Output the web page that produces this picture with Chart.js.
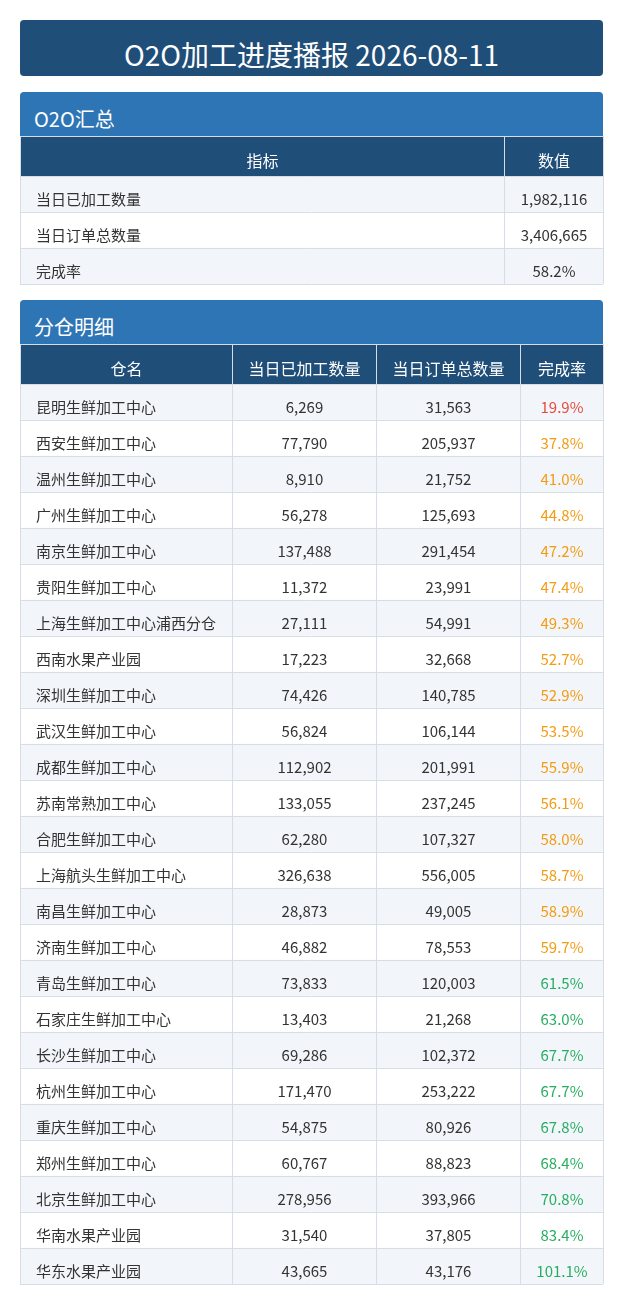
<!DOCTYPE html>
<html>
<head>
<meta charset="utf-8">
<script src="https://cdn.jsdelivr.net/npm/chart.js@4.4.1/dist/chart.umd.min.js"></script>
<style>
html,body{margin:0;padding:0;background:#fff;}
body{width:623px;height:1304px;position:relative;overflow:hidden;font-family:"Noto Sans CJK SC","Noto Sans",sans-serif;}
.banner{position:absolute;left:20px;width:583px;color:#fff;}
.title{top:20px;height:56px;background:#1f4e79;border-radius:4px;}
.title span{position:absolute;left:0;right:0;text-align:center;font-size:28px;line-height:40.54px;top:13.5px;white-space:nowrap;}
.sec{height:44px;background:#2e75b6;border-radius:4px 4px 0 0;}
.sec span{position:absolute;left:14px;font-size:20px;line-height:28.96px;top:12.8px;white-space:nowrap;}
canvas{position:absolute;left:0;}
</style>
</head>
<body>
<div class="banner title"><span>O2O加工进度播报 2026-08-11</span></div>
<div class="banner sec" style="top:92px"><span>O2O汇总</span></div>
<div class="banner sec" style="top:300px"><span>分仓明细</span></div>
<canvas id="sum" width="623" height="158" style="top:136px"></canvas>
<canvas id="det" width="623" height="960" style="top:344px"></canvas>
<script>
// ---------- DATA ----------
const summaryHeaders = ['指标', '数值'];
const summaryMetrics = ['当日已加工数量', '当日订单总数量', '完成率'];
const summaryValues = ['1,982,116', '3,406,665', '58.2%'];

const detailHeaders = ['仓名', '当日已加工数量', '当日订单总数量', '完成率'];
const warehouses = ['昆明生鲜加工中心','西安生鲜加工中心','温州生鲜加工中心','广州生鲜加工中心','南京生鲜加工中心','贵阳生鲜加工中心','上海生鲜加工中心浦西分仓','西南水果产业园','深圳生鲜加工中心','武汉生鲜加工中心','成都生鲜加工中心','苏南常熟加工中心','合肥生鲜加工中心','上海航头生鲜加工中心','南昌生鲜加工中心','济南生鲜加工中心','青岛生鲜加工中心','石家庄生鲜加工中心','长沙生鲜加工中心','杭州生鲜加工中心','重庆生鲜加工中心','郑州生鲜加工中心','北京生鲜加工中心','华南水果产业园','华东水果产业园'];
const processedQty = [6269,77790,8910,56278,137488,11372,27111,17223,74426,56824,112902,133055,62280,326638,28873,46882,73833,13403,69286,171470,54875,60767,278956,31540,43665];
const orderQty = [31563,205937,21752,125693,291454,23991,54991,32668,140785,106144,201991,237245,107327,556005,49005,78553,120003,21268,102372,253222,80926,88823,393966,37805,43176];
const completionRate = [19.9,37.8,41.0,44.8,47.2,47.4,49.3,52.7,52.9,53.5,55.9,56.1,58.0,58.7,58.9,59.7,61.5,63.0,67.7,67.7,67.8,68.4,70.8,83.4,101.1];

// ---------- STYLE ----------
const HEADER_BG = '#1f4e79';
const LINE = '#d6dde7';
const ROW_ALT = '#f2f6fa';
const TEXT = '#333333';
const FONT = '15px "Noto Sans CJK SC", "Noto Sans", sans-serif';
const HEAD_FONT = '16px "Noto Sans CJK SC", "Noto Sans", sans-serif';
const HEADER_H = 40, ROW_H = 36;
function rateColor(v){ return v < 30 ? '#e74c3c' : (v < 60 ? '#f39c12' : '#27ae60'); }
const fmt = n => n.toLocaleString('en-US');

const tablePlugin = {
  id: 'tableCells',
  afterDraw(chart, args, opts) {
    const {ctx, chartArea: a, scales: {x, y}} = chart;
    const edges = opts.edges;
    const px = e => Math.round(x.getPixelForValue(e));
    const hTop = a.top - HEADER_H;
    ctx.save();
    ctx.fillStyle = HEADER_BG;
    ctx.fillRect(a.left, hTop, px(edges[edges.length-1]) - a.left + 1, HEADER_H);
    ctx.strokeStyle = LINE; ctx.lineWidth = 1;
    ctx.beginPath();
    ctx.moveTo(a.left, hTop + 0.5); ctx.lineTo(px(edges[edges.length-1]) + 1, hTop + 0.5);
    edges.forEach(e => { const p = px(e) + 0.5; ctx.moveTo(p, hTop); ctx.lineTo(p, a.top); });
    ctx.stroke();
    ctx.font = HEAD_FONT;
    ctx.textBaseline = 'alphabetic';
    ctx.fillStyle = '#ffffff';
    ctx.textAlign = 'center';
    opts.headers.forEach((h, c) => {
      ctx.fillText(h, (px(edges[c]) + px(edges[c+1])) / 2 + 0.5, a.top - 9);
    });
    ctx.font = FONT;
    const labels = chart.data.labels;
    labels.forEach((lab, r) => {
      const base = Math.round(y.getPixelForValue(r)) + opts.baseOffset;
      opts.headers.forEach((h, c) => {
        const cell = opts.cell(r, c);
        ctx.fillStyle = cell.color || TEXT;
        if (c === 0) {
          ctx.textAlign = 'left';
          ctx.fillText(cell.text, px(edges[0]) + 16, base);
        } else {
          ctx.textAlign = 'center';
          ctx.fillText(cell.text, (px(edges[c]) + px(edges[c+1])) / 2 + 0.5, base);
        }
      });
    });
    ctx.restore();
  }
};

function makeTable(id, rows, edges, headers, cell, baseOffset) {
  const canvas = document.getElementById(id);
  const xMax = edges[edges.length - 1];
  return new Chart(canvas, {
    type: 'bar',
    data: {
      labels: rows,
      datasets: [{
        data: rows.map(() => [0, xMax]),
        backgroundColor: rows.map((_, i) => i % 2 === 0 ? ROW_ALT : '#ffffff'),
        borderWidth: 0,
        categoryPercentage: 1,
        barPercentage: 1
      }]
    },
    options: {
      indexAxis: 'y',
      responsive: false,
      animation: false,
      devicePixelRatio: 1,
      events: [],
      layout: { padding: { top: HEADER_H, left: 20, right: 20, bottom: canvas.height - HEADER_H - rows.length * ROW_H } },
      plugins: {
        legend: { display: false },
        tooltip: { enabled: false },
        tableCells: { edges, headers, cell, baseOffset }
      },
      scales: {
        x: {
          type: 'linear', min: 0, max: xMax,
          afterBuildTicks: s => { s.ticks = edges.map(v => ({ value: v })); },
          ticks: { display: false },
          grid: { color: LINE, drawTicks: false, z: 1 },
          border: { display: false }
        },
        y: {
          type: 'category',
          ticks: { display: false },
          grid: { color: LINE, drawTicks: false, offset: true, z: 1 },
          border: { display: false }
        }
      }
    },
    plugins: [tablePlugin]
  });
}

makeTable('sum', summaryMetrics, [0, 484, 583], summaryHeaders,
  (r, c) => ({ text: c === 0 ? summaryMetrics[r] : summaryValues[r] }), 11);

makeTable('det', warehouses, [0, 212, 356, 500, 583], detailHeaders,
  (r, c) => {
    if (c === 0) return { text: warehouses[r] };
    if (c === 1) return { text: fmt(processedQty[r]) };
    if (c === 2) return { text: fmt(orderQty[r]) };
    return { text: completionRate[r].toFixed(1) + '%', color: rateColor(completionRate[r]) };
  }, 11);
</script>
</body>
</html>
